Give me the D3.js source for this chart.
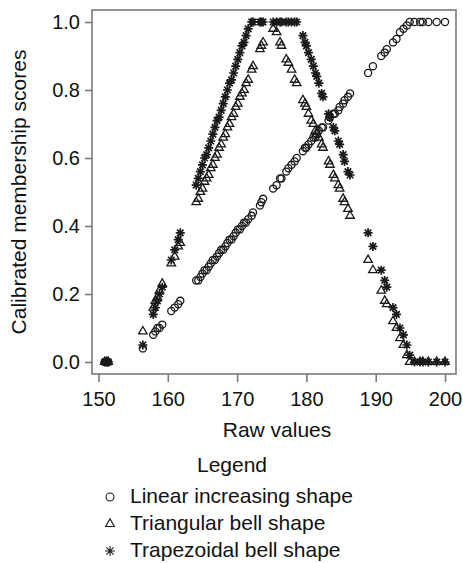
<!DOCTYPE html>
<html>
<head>
<meta charset="utf-8">
<script src="https://cdn.jsdelivr.net/npm/d3@7"></script>
<style>
  html, body { margin: 0; padding: 0; background: #fff; }
  svg { display: block; }
  text { font-family: "Liberation Sans", Arial, Helvetica, sans-serif; fill: #111; }
</style>
</head>
<body>
<svg id="chart" width="463" height="563"></svg>
<script>
// Raw values (shared by every calibration) and the membership score each shape gives them
const rawValues = [
  150.9, 151.2, 151.4,
  156.4,
  157.9, 158.2, 158.5, 158.8, 159.2,
  160.5, 161.0, 161.5, 161.8,
  164.1, 164.4, 164.7, 165.0, 165.3, 165.6, 165.9, 166.2, 166.5, 166.8, 167.1, 167.4, 167.7,
  168.0, 168.3, 168.6, 168.9, 169.2, 169.5, 169.8, 170.1, 170.4, 170.7, 171.0, 171.3, 171.6,
  172.1, 172.3, 173.3, 173.5, 173.75,
  175.2, 175.7, 176.2, 176.4, 177.1, 177.4, 177.85, 178.3, 178.6,
  179.5, 179.8, 180.0, 180.3, 180.7, 181.0, 181.3, 181.5, 181.8, 182.2, 182.4,
  183.2, 183.4, 183.9, 184.1, 184.6, 184.8, 185.3, 185.5, 186.0, 186.3,
  188.9, 189.6, 190.8, 191.3, 191.6, 192.5, 193.0, 193.5, 194.0, 194.5, 194.9,
  195.6, 196.4, 196.8, 197.6, 198.8, 200.0
];

const linearScores = [
  0, 0, 0,
  0.04,
  0.08, 0.09, 0.10, 0.10, 0.11,
  0.15, 0.16, 0.17, 0.18,
  0.24, 0.24, 0.25, 0.26, 0.27, 0.27, 0.28, 0.29, 0.30, 0.30, 0.31, 0.32, 0.33,
  0.33, 0.34, 0.35, 0.36, 0.36, 0.37, 0.38, 0.39, 0.39, 0.40, 0.41, 0.41, 0.42,
  0.43, 0.44, 0.46, 0.47, 0.48,
  0.51, 0.52, 0.54, 0.54, 0.56, 0.57, 0.58, 0.59, 0.60,
  0.62, 0.63, 0.63, 0.64, 0.65, 0.66, 0.66, 0.67, 0.68, 0.69, 0.69,
  0.71, 0.72, 0.73, 0.73, 0.74, 0.75, 0.76, 0.77, 0.78, 0.79,
  0.85, 0.87, 0.90, 0.91, 0.92, 0.94, 0.95, 0.97, 0.98, 0.99, 1.00,
  1, 1, 1, 1, 1, 1
];

const triangularScores = [
  0, 0, 0,
  0.09,
  0.16, 0.18, 0.19, 0.21, 0.23,
  0.29, 0.31, 0.34, 0.35,
  0.47, 0.48, 0.50, 0.51, 0.53, 0.54, 0.55, 0.57, 0.58, 0.60, 0.61, 0.63, 0.64,
  0.66, 0.67, 0.69, 0.70, 0.72, 0.73, 0.75, 0.76, 0.78, 0.79, 0.80, 0.82, 0.83,
  0.86, 0.87, 0.92, 0.93, 0.94,
  0.98, 0.97, 0.94, 0.93, 0.89, 0.88, 0.86, 0.83, 0.82,
  0.77, 0.76, 0.75, 0.73, 0.71, 0.70, 0.68, 0.67, 0.66, 0.64, 0.63,
  0.59, 0.58, 0.55, 0.54, 0.52, 0.51, 0.48, 0.47, 0.45, 0.43,
  0.30, 0.27, 0.21, 0.18, 0.17, 0.12, 0.10, 0.07, 0.05, 0.02, 0.00,
  0, 0, 0, 0, 0, 0
];

const trapezoidalScores = [
  0, 0, 0,
  0.05,
  0.14, 0.16, 0.18, 0.20, 0.22,
  0.30, 0.33, 0.36, 0.38,
  0.52, 0.54, 0.56, 0.58, 0.60, 0.61, 0.63, 0.65, 0.67, 0.69, 0.71, 0.72, 0.74,
  0.76, 0.78, 0.80, 0.82, 0.83, 0.85, 0.87, 0.89, 0.91, 0.93, 0.94, 0.96, 0.98,
  1, 1, 1, 1, 1,
  1, 1, 1, 1, 1, 1, 1, 1, 1,
  0.96, 0.94, 0.93, 0.91, 0.89, 0.87, 0.85, 0.84, 0.82, 0.79, 0.78,
  0.73, 0.72, 0.69, 0.68, 0.65, 0.64, 0.61, 0.59, 0.56, 0.55,
  0.38, 0.34, 0.27, 0.24, 0.22, 0.16, 0.14, 0.10, 0.08, 0.05, 0.02,
  0, 0, 0, 0, 0, 0
];

const xTicks = [150, 160, 170, 180, 190, 200];
const yTicks = [0, 0.2, 0.4, 0.6, 0.8, 1.0];
const legendLabels = ["Linear increasing shape", "Triangular bell shape", "Trapezoidal bell shape"];

const svg = d3.select("#chart");
const frame = { left: 92, right: 456, top: 10, bottom: 374 };
const axisColor = "#7a7a7a";
const markColor = "#1a1a1a";
const tickFont = 20;
const titleFont = 21;

const x = d3.scaleLinear().domain([150, 200]).range([98.5, 445]);
const y = d3.scaleLinear().domain([0, 1]).range([362, 22]);

// Plot frame
svg.append("rect")
  .attr("x", frame.left).attr("y", frame.top)
  .attr("width", frame.right - frame.left).attr("height", frame.bottom - frame.top)
  .attr("fill", "none").attr("stroke", axisColor).attr("stroke-width", 1.6);

// Axes
const yAxis = svg.append("g")
  .attr("transform", `translate(${frame.left},0)`)
  .call(d3.axisLeft(y).tickValues(yTicks).tickFormat(d3.format(".1f")).tickSize(7).tickPadding(5));
const xAxis = svg.append("g")
  .attr("transform", `translate(0,${frame.bottom})`)
  .call(d3.axisBottom(x).tickValues(xTicks).tickFormat(d3.format("d")).tickSize(8).tickPadding(10));
[xAxis, yAxis].forEach(g => {
  g.select(".domain").remove();
  g.selectAll(".tick line").attr("stroke", axisColor).attr("stroke-width", 1.6);
  g.selectAll(".tick text")
    .attr("font-size", tickFont)
    .attr("font-family", '"Liberation Sans", Arial, sans-serif')
    .attr("fill", "#111");
});

// Axis titles
svg.append("text")
  .attr("transform", `translate(20,${(frame.top + frame.bottom) / 2}) rotate(-90)`)
  .attr("text-anchor", "middle").attr("dominant-baseline", "middle")
  .attr("font-size", titleFont)
  .text("Calibrated membership scores");
svg.append("text")
  .attr("x", (frame.left + frame.right) / 2 + 3).attr("y", 431)
  .attr("text-anchor", "middle").attr("dominant-baseline", "middle")
  .attr("font-size", titleFont)
  .text("Raw values");

// Marker shapes
const circlePath = d3.symbol().type(d3.symbolCircle).size(40)();
const trianglePath = d3.symbol().type(d3.symbolTriangle2).size(52)();
function asteriskPath(r) {
  const d = r * 0.72;
  return `M0,${-r}V${r}M${-r},0H${r}M${-d},${-d}L${d},${d}M${-d},${d}L${d},${-d}`;
}

const pts = rawValues.map((v, i) => ({
  raw: v, lin: linearScores[i], tri: triangularScores[i], trap: trapezoidalScores[i]
}));

const plot = svg.append("g");
plot.selectAll("path.lin").data(pts).join("path")
  .attr("class", "lin")
  .attr("d", circlePath)
  .attr("transform", d => `translate(${x(d.raw)},${y(d.lin)})`)
  .attr("fill", "none").attr("stroke", markColor).attr("stroke-width", 1.3);
plot.selectAll("path.tri").data(pts).join("path")
  .attr("class", "tri")
  .attr("d", trianglePath)
  .attr("transform", d => `translate(${x(d.raw)},${y(d.tri)})`)
  .attr("fill", "none").attr("stroke", markColor).attr("stroke-width", 1.3);
plot.selectAll("path.trap").data(pts).join("path")
  .attr("class", "trap")
  .attr("d", asteriskPath(4.5))
  .attr("transform", d => `translate(${x(d.raw)},${y(d.trap)})`)
  .attr("fill", "none").attr("stroke", markColor).attr("stroke-width", 1.7);

// Legend
svg.append("text")
  .attr("x", 232).attr("y", 466)
  .attr("text-anchor", "middle").attr("dominant-baseline", "middle")
  .attr("font-size", titleFont)
  .text("Legend");

const legendSymbols = [
  d3.symbol().type(d3.symbolCircle).size(50)(),
  d3.symbol().type(d3.symbolTriangle2).size(56)(),
  asteriskPath(5)
];
const legendRows = [497, 524, 551];
const legend = svg.append("g");
legendLabels.forEach((label, i) => {
  legend.append("path")
    .attr("d", legendSymbols[i])
    .attr("transform", `translate(110,${legendRows[i]})`)
    .attr("fill", "none").attr("stroke", markColor).attr("stroke-width", 1.1);
  legend.append("text")
    .attr("x", 130).attr("y", legendRows[i])
    .attr("dominant-baseline", "middle")
    .attr("font-size", titleFont)
    .text(label);
});
</script>
</body>
</html>
